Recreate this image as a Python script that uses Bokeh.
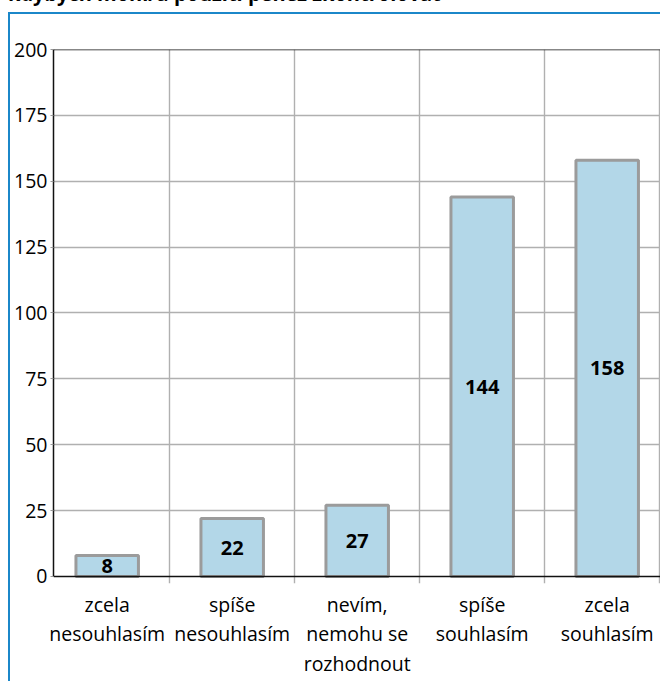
from bokeh.plotting import figure
from bokeh.models import FixedTicker, Span, Range1d, Div
from bokeh.layouts import column
from bokeh.core.properties import value
from bokeh.embed import file_html
from bokeh.resources import INLINE

# ---- data ----
title_text = "kdybych mohl/a použití peněz zkontrolovat"
categories = ["zcela\nnesouhlasím", "spíše\nnesouhlasím", "nevím,\nnemohu se\nrozhodnout",
              "spíše\nsouhlasím", "zcela\nsouhlasím"]
counts = [8, 22, 27, 144, 158]
y_ticks = [0, 25, 50, 75, 100, 125, 150, 175, 200]

xs = list(range(len(categories)))
mids = [c / 2 for c in counts]
labels = [str(c) for c in counts]

FONT = "Open Sans"
BLUE = "#1b87c9"

p = figure(width=650, height=667, output_backend="svg", toolbar_location=None,
           x_range=Range1d(-0.4296, 4.4264), y_range=Range1d(-2.657, 200),
           min_border_left=43, min_border_top=35, min_border_right=0, min_border_bottom=98,
           background_fill_color="white", border_fill_color="white")
p.outline_line_color = None

# grids
p.ygrid.ticker = FixedTicker(ticks=y_ticks[1:-1])
p.ygrid.grid_line_color = "#b0b0b0"
p.ygrid.grid_line_width = 1.4
p.xgrid.ticker = FixedTicker(ticks=[0.5, 1.5, 2.5, 3.5, 4.42])
p.xgrid.grid_line_color = "#b0b0b0"
p.xgrid.grid_line_width = 1.4

# bars
p.vbar(x=xs, top=counts, width=0.5, bottom=0, fill_color="#b3d7e8",
       line_color="#9b9b9b", line_width=3)

# value labels
p.text(x=xs, y=mids, text=labels, text_align="center", text_baseline="middle",
       text_font=value(FONT), text_font_style="bold", text_font_size="20px",
       text_color="black")

# frame lines
p.add_layout(Span(location=0, dimension="width", line_color="#111111", line_width=1.5))
p.add_layout(Span(location=200, dimension="width", line_color="#111111", line_width=1.5))

# y axis
ya = p.yaxis[0]
ya.ticker = FixedTicker(ticks=y_ticks)
ya.bounds = (0, 200)
ya.axis_line_color = "#111111"
ya.axis_line_width = 1.5
ya.major_tick_out = 3
ya.major_tick_in = 0
ya.major_tick_line_color = "#999999"
ya.minor_tick_line_color = None
ya.major_label_standoff = 3
ya.major_label_text_font = FONT
ya.major_label_text_font_size = "19.5px"
ya.major_label_text_color = "black"

# x axis
xa = p.xaxis[0]
xa.ticker = FixedTicker(ticks=xs)
xa.major_label_overrides = {i: c for i, c in zip(xs, categories)}
xa.axis_line_color = None
xa.major_tick_line_color = None
xa.minor_tick_line_color = None
xa.major_label_standoff = 1
xa.major_label_text_font = FONT
xa.major_label_text_font_size = "19.5px"
xa.major_label_text_color = "black"
xa.major_label_text_line_height = 1.1

title_div = Div(text=title_text, width=652, height=20, margin=(-16, 0, 8, 8),
                styles={"font-family": "Open Sans", "font-weight": "bold", "font-size": "20px",
                        "line-height": "20px", "white-space": "nowrap", "color": "black"})

box = column(p, margin=(0, 0, 0, 8),
             styles={"border-left": f"2px solid {BLUE}", "border-top": f"2px solid {BLUE}"})
layout = column(title_div, box)

open("out.html", "w").write(file_html(layout, INLINE))
